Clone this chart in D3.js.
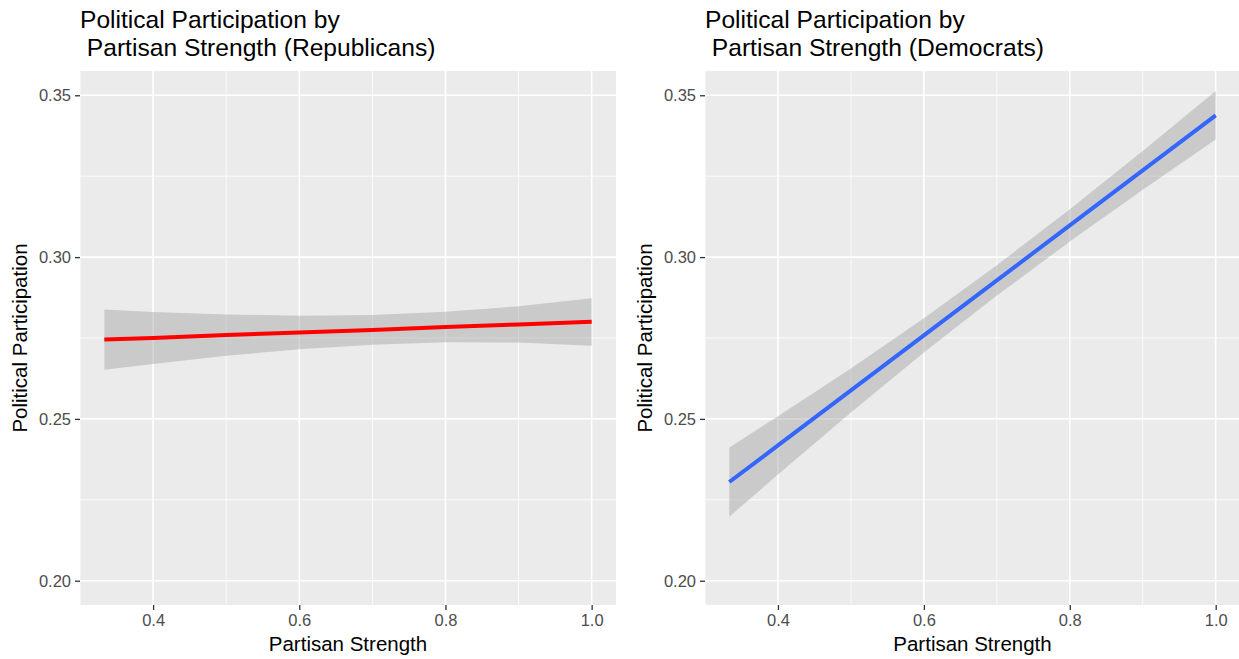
<!DOCTYPE html>
<html>
<head>
<meta charset="utf-8">
<script src="https://cdn.jsdelivr.net/npm/d3@7"></script>
<style>
  body { margin: 0; background: #fff; }
  svg { display: block; font-family: "Liberation Sans", Arial, Helvetica, sans-serif; }
</style>
</head>
<body>
<div id="chart"></div>
<script>
// partisan strength values where the fit was sampled
const strength = [0.3333, 0.4, 0.5, 0.6, 0.7, 0.8, 0.9, 1.0];

// Republicans: fitted line and confidence band
const repFit   = [0.2745, 0.2750, 0.2759, 0.2767, 0.2775, 0.2784, 0.2792, 0.2800];
const repUpper = [0.2838, 0.2830, 0.2823, 0.2819, 0.2821, 0.2831, 0.2848, 0.2873];
const repLower = [0.2652, 0.2670, 0.2695, 0.2715, 0.2729, 0.2737, 0.2736, 0.2726];

// Democrats
const demFit   = [0.2305, 0.2418, 0.2588, 0.2758, 0.2928, 0.3098, 0.3268, 0.3438];
const demUpper = [0.2412, 0.2508, 0.2656, 0.2811, 0.2975, 0.3148, 0.3328, 0.3513];
const demLower = [0.2198, 0.2328, 0.2520, 0.2705, 0.2881, 0.3048, 0.3208, 0.3363];

const xTicks = [0.4, 0.6, 0.8, 1.0];
const xMinor = [0.3, 0.5, 0.7, 0.9];
const yTicks = [0.20, 0.25, 0.30, 0.35];
const yMinor = [0.225, 0.275, 0.325];

const W = 1239, H = 659;
const svg = d3.select("#chart").append("svg")
    .attr("width", W)
    .attr("height", H);

function drawPanel(cfg) {
    const x = d3.scaleLinear().domain([0.3, 1.0333]).range([cfg.left, cfg.right]);
    const y = d3.scaleLinear().domain([0.1925, 0.3575]).range([cfg.bottom, cfg.top]);
    const g = svg.append("g");

    // panel background
    g.append("rect")
        .attr("x", cfg.left).attr("y", cfg.top)
        .attr("width", cfg.right - cfg.left)
        .attr("height", cfg.bottom - cfg.top)
        .attr("fill", "#EBEBEB");

    // minor grid
    g.selectAll(".vminor").data(xMinor).join("line")
        .attr("x1", d => x(d)).attr("x2", d => x(d))
        .attr("y1", cfg.top).attr("y2", cfg.bottom)
        .attr("stroke", "#fff").attr("stroke-width", 0.8);
    g.selectAll(".hminor").data(yMinor).join("line")
        .attr("y1", d => y(d)).attr("y2", d => y(d))
        .attr("x1", cfg.left).attr("x2", cfg.right)
        .attr("stroke", "#fff").attr("stroke-width", 0.8);

    // major grid
    g.selectAll(".vmajor").data(xTicks).join("line")
        .attr("x1", d => x(d)).attr("x2", d => x(d))
        .attr("y1", cfg.top).attr("y2", cfg.bottom)
        .attr("stroke", "#fff").attr("stroke-width", 1.6);
    g.selectAll(".hmajor").data(yTicks).join("line")
        .attr("y1", d => y(d)).attr("y2", d => y(d))
        .attr("x1", cfg.left).attr("x2", cfg.right)
        .attr("stroke", "#fff").attr("stroke-width", 1.6);

    // confidence band
    const band = strength.map((s, i) => ({ s, lo: cfg.lower[i], hi: cfg.upper[i] }));
    g.append("path")
        .datum(band)
        .attr("d", d3.area().x(d => x(d.s)).y0(d => y(d.lo)).y1(d => y(d.hi)))
        .attr("fill", "#999999")
        .attr("fill-opacity", 0.4);

    // fitted line
    const fit = strength.map((s, i) => ({ s, v: cfg.fit[i] }));
    g.append("path")
        .datum(fit)
        .attr("d", d3.line().x(d => x(d.s)).y(d => y(d.v)))
        .attr("fill", "none")
        .attr("stroke", cfg.color)
        .attr("stroke-width", 4);

    // axes
    const xAxis = d3.axisBottom(x).tickValues(xTicks).tickSize(5).tickPadding(4)
        .tickFormat(d3.format(".1f"));
    const yAxis = d3.axisLeft(y).tickValues(yTicks).tickSize(5).tickPadding(4)
        .tickFormat(d3.format(".2f"));

    const gx = g.append("g").attr("transform", `translate(0,${cfg.bottom})`).call(xAxis);
    const gy = g.append("g").attr("transform", `translate(${cfg.left},0)`).call(yAxis);
    [gx, gy].forEach(a => {
        a.select(".domain").remove();
        a.selectAll(".tick line").attr("stroke", "#333").attr("stroke-width", 1.3);
        a.selectAll(".tick text")
            .attr("fill", "#4D4D4D")
            .style("font-size", "16.5px")
            .style("font-family", "'Liberation Sans', Arial, sans-serif");
    });

    // axis titles
    g.append("text")
        .attr("x", (cfg.left + cfg.right) / 2)
        .attr("y", 651)
        .attr("text-anchor", "middle")
        .style("font-size", "20.5px")
        .text("Partisan Strength");

    g.append("text")
        .attr("transform", `translate(${cfg.left - 53},${(cfg.top + cfg.bottom) / 2}) rotate(-90)`)
        .attr("text-anchor", "middle")
        .style("font-size", "20.5px")
        .text("Political Participation");

    // title (two lines, second starts with a space like the original)
    const title = g.append("text")
        .attr("x", cfg.left)
        .style("font-size", "24.6px");
    title.append("tspan").attr("x", cfg.left).attr("y", 28).text(cfg.title[0]);
    title.append("tspan").attr("x", cfg.left).attr("y", 56).text(cfg.title[1]);
}

drawPanel({
    left: 80, right: 616, top: 71, bottom: 605,
    fit: repFit, upper: repUpper, lower: repLower,
    color: "#FF0000",
    title: ["Political Participation by", "\u00A0Partisan Strength (Republicans)"]
});

drawPanel({
    left: 705, right: 1240, top: 71, bottom: 605,
    fit: demFit, upper: demUpper, lower: demLower,
    color: "#3366FF",
    title: ["Political Participation by", "\u00A0Partisan Strength (Democrats)"]
});
</script>
</body>
</html>
